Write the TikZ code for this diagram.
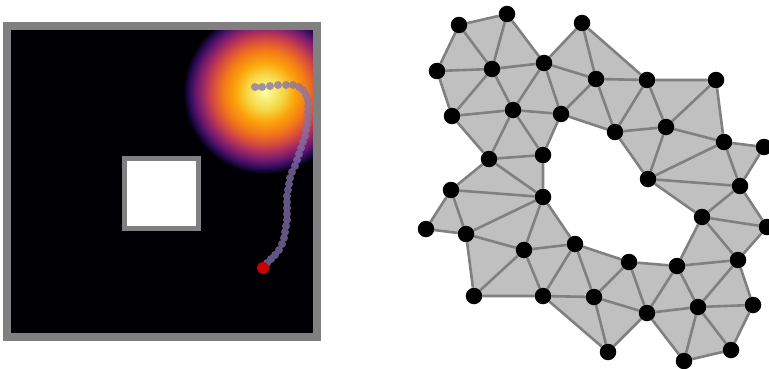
\documentclass[tikz,border=0pt]{standalone}
\usepackage{xcolor}
\usepackage{tikz}
\usetikzlibrary{backgrounds}

\definecolor{heatA}{RGB}{252,255,164}
\definecolor{heatB}{RGB}{246,215,70}
\definecolor{heatC}{RGB}{252,165,10}
\definecolor{heatD}{RGB}{243,120,25}
\definecolor{heatE}{RGB}{212,72,66}
\definecolor{heatF}{RGB}{165,44,96}
\definecolor{heatG}{RGB}{106,23,110}
\definecolor{heatH}{RGB}{40,11,83}
\definecolor{heatI}{RGB}{0,0,4}
\definecolor{wallgray}{RGB}{128,128,128}
\definecolor{facegray}{RGB}{192,192,192}
\definecolor{trailpurple}{RGB}{132,114,172}
\definecolor{startred}{RGB}{200,0,0}

\pgfdeclareradialshading{heat}{\pgfpoint{0bp}{0bp}}{%
  color(0bp)=(heatA); color(5.3bp)=(heatB); color(8.8bp)=(heatC);
  color(12.4bp)=(heatD); color(15.6bp)=(heatE); color(17.9bp)=(heatF);
  color(20.3bp)=(heatG); color(22.4bp)=(heatH); color(24.1bp)=(heatI);
  color(50bp)=(heatI)}

\begin{document}
\begin{tikzpicture}[
    x=1pt, y=-1pt,
    vertex/.style={circle, fill=black, draw=none, minimum size=16.5pt, inner sep=0pt},
    link/.style={draw=wallgray, line width=2.6pt},
    face/.style={fill=facegray, even odd rule},
    trail/.style={fill=trailpurple, fill opacity=0.75}
]
\useasboundingbox (0,0) rectangle (769,369);

% Room with heat map
\fill[heatI] (11,30) rectangle (313,333);
\begin{scope}
  \clip (11,30) rectangle (313,333);
  \shade[shading=heat] (265,92) circle (85);
\end{scope}
\draw[wallgray, line width=8pt] (7,26) rectangle (317,337);
\draw[wallgray, line width=5pt, fill=white] (124.5,158.5) rectangle (198.5,228.5);

% Trajectory
\fill[trail] (255,87) circle (4) (262,87) circle (4) (270,86) circle (4) (278,85) circle (4)
  (286,85) circle (4) (293,85) circle (4) (299,87) circle (4) (303,90) circle (4)
  (306,95) circle (4) (308,100) circle (4) (308,106) circle (4) (308,112) circle (4)
  (308,118) circle (4) (307,124) circle (4) (306,130) circle (4) (305,136) circle (4)
  (303,142) circle (4) (301,148) circle (4) (299,154) circle (4) (297,160) circle (4)
  (295,166) circle (4) (292,172) circle (4) (290,178) circle (4) (289,184) circle (4)
  (288,190) circle (4) (287,196) circle (4) (287,202) circle (4) (287,208) circle (4)
  (287,214) circle (4) (287,220) circle (4) (286,226) circle (4) (285,232) circle (4)
  (284,238) circle (4) (282,244) circle (4) (279,250) circle (4) (275,255) circle (4)
  (271,259) circle (4) (267,263) circle (4);
\fill[startred] (263,268) circle (6);

% Mesh vertices
\node[vertex] (v1) at (459,25) {};
\node[vertex] (v2) at (507,14) {};
\node[vertex] (v3) at (582,23) {};
\node[vertex] (v4) at (437,71) {};
\node[vertex] (v5) at (492,69) {};
\node[vertex] (v6) at (544,63) {};
\node[vertex] (v7) at (596,79) {};
\node[vertex] (v8) at (647,80) {};
\node[vertex] (v9) at (716,80) {};
\node[vertex] (v10) at (452,116) {};
\node[vertex] (v11) at (513,110) {};
\node[vertex] (v12) at (561,114) {};
\node[vertex] (v13) at (615,132) {};
\node[vertex] (v14) at (666,127) {};
\node[vertex] (v15) at (724,142) {};
\node[vertex] (v16) at (764,147) {};
\node[vertex] (v17) at (489,159) {};
\node[vertex] (v18) at (543,155) {};
\node[vertex] (v19) at (648,179) {};
\node[vertex] (v20) at (740,186) {};
\node[vertex] (v21) at (451,190) {};
\node[vertex] (v22) at (543,197) {};
\node[vertex] (v23) at (702,217) {};
\node[vertex] (v24) at (426,229) {};
\node[vertex] (v25) at (466,234) {};
\node[vertex] (v26) at (524,250) {};
\node[vertex] (v27) at (575,244) {};
\node[vertex] (v28) at (767,227) {};
\node[vertex] (v29) at (629,262) {};
\node[vertex] (v30) at (677,266) {};
\node[vertex] (v31) at (738,260) {};
\node[vertex] (v32) at (474,296) {};
\node[vertex] (v33) at (543,296) {};
\node[vertex] (v34) at (594,297) {};
\node[vertex] (v35) at (647,313) {};
\node[vertex] (v36) at (698,307) {};
\node[vertex] (v37) at (753,305) {};
\node[vertex] (v38) at (608,352) {};
\node[vertex] (v39) at (684,361) {};
\node[vertex] (v40) at (731,350) {};

\begin{scope}[on background layer]
% Faces (outer border minus the hole)
\path[face] (v1.center) -- (v2.center) -- (v6.center) -- (v3.center) -- (v8.center)
  -- (v9.center) -- (v15.center) -- (v16.center) -- (v20.center) -- (v28.center)
  -- (v31.center) -- (v37.center) -- (v40.center) -- (v39.center) -- (v35.center)
  -- (v38.center) -- (v33.center) -- (v32.center) -- (v25.center) -- (v24.center)
  -- (v21.center) -- (v17.center) -- (v10.center) -- (v4.center) -- cycle
  (v12.center) -- (v13.center) -- (v19.center) -- (v23.center) -- (v30.center)
  -- (v29.center) -- (v27.center) -- (v22.center) -- (v18.center) -- cycle;

% Edges
\path[link] (v1) -- (v2) (v1) -- (v4) (v1) -- (v5)
  (v2) -- (v5) (v2) -- (v6)
  (v3) -- (v6) (v3) -- (v7) (v3) -- (v8)
  (v4) -- (v5) (v4) -- (v10)
  (v5) -- (v6) (v5) -- (v10) (v5) -- (v11)
  (v6) -- (v7) (v6) -- (v11) (v6) -- (v12)
  (v7) -- (v8) (v7) -- (v12) (v7) -- (v13)
  (v8) -- (v9) (v8) -- (v13) (v8) -- (v14)
  (v9) -- (v14) (v9) -- (v15)
  (v10) -- (v11) (v10) -- (v17)
  (v11) -- (v12) (v11) -- (v17) (v11) -- (v18)
  (v12) -- (v13) (v12) -- (v18)
  (v13) -- (v14) (v13) -- (v19)
  (v14) -- (v15) (v14) -- (v19)
  (v15) -- (v16) (v15) -- (v19) (v15) -- (v20)
  (v16) -- (v20)
  (v17) -- (v18) (v17) -- (v21) (v17) -- (v22)
  (v18) -- (v22)
  (v19) -- (v20) (v19) -- (v23)
  (v20) -- (v23) (v20) -- (v28)
  (v21) -- (v22) (v21) -- (v24) (v21) -- (v25)
  (v22) -- (v25) (v22) -- (v26) (v22) -- (v27)
  (v23) -- (v28) (v23) -- (v30) (v23) -- (v31)
  (v24) -- (v25)
  (v25) -- (v26) (v25) -- (v32)
  (v26) -- (v27) (v26) -- (v32) (v26) -- (v33)
  (v27) -- (v29) (v27) -- (v33) (v27) -- (v34)
  (v28) -- (v31)
  (v29) -- (v30) (v29) -- (v34) (v29) -- (v35)
  (v30) -- (v31) (v30) -- (v35) (v30) -- (v36)
  (v31) -- (v36) (v31) -- (v37)
  (v32) -- (v33)
  (v33) -- (v34) (v33) -- (v38)
  (v34) -- (v35) (v34) -- (v38)
  (v35) -- (v36) (v35) -- (v38) (v35) -- (v39)
  (v36) -- (v37) (v36) -- (v39) (v36) -- (v40)
  (v37) -- (v40)
  (v39) -- (v40);
\end{scope}

\end{tikzpicture}
\end{document}
